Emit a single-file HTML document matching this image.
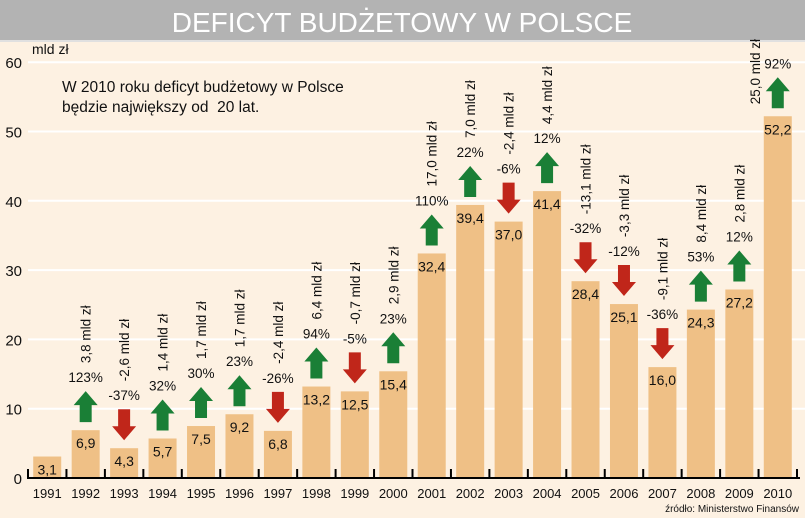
<!DOCTYPE html>
<html><head><meta charset="utf-8"><style>
body{margin:0;background:#fdf1e2;}
svg{display:block;font-family:"Liberation Sans","Noto Sans CJK SC",sans-serif;}
</style></head><body>
<svg id="c" width="805" height="518">
<rect x="0" y="0" width="805" height="518" fill="#fdf1e2"/>
<rect x="0" y="0" width="805" height="40" fill="#b3b3b3"/>
<rect x="0" y="40" width="805" height="2" fill="#e0e0e0"/>
<text x="402" y="32" text-anchor="middle" font-size="28" fill="#fff">DEFICYT BUDŻETOWY W POLSCE</text>
<text x="32" y="54" font-size="14" fill="#111">mld zł</text>
<text x="62" y="92" font-size="15.5" fill="#111">W 2010 roku deficyt budżetowy w Polsce</text>
<text x="62" y="112" font-size="15.5" fill="#111">będzie największy od&#160; 20 lat.</text>
<text x="799" y="512" text-anchor="end" font-size="10" fill="#111">źródło: Ministerstwo Finansów</text>
<g id="g"></g>
</svg>
<script>
const years=["1991","1992","1993","1994","1995","1996","1997","1998","1999","2000","2001","2002","2003","2004","2005","2006","2007","2008","2009","2010"];
const values=[3.1,6.9,4.3,5.7,7.5,9.2,6.8,13.2,12.5,15.4,32.4,39.4,37.0,41.4,28.4,25.1,16.0,24.3,27.2,52.2];
const changePct=[null,"123%","-37%","32%","30%","23%","-26%","94%","-5%","23%","110%","22%","-6%","12%","-32%","-12%","-36%","53%","12%","92%"];
const changeAbs=[null,"3,8 mld zł","-2,6 mld zł","1,4 mld zł","1,7 mld zł","1,7 mld zł","-2,4 mld zł","6,4 mld zł","-0,7 mld zł","2,9 mld zł","17,0 mld zł","7,0 mld zł","-2,4 mld zł","4,4 mld zł","-13,1 mld zł","-3,3 mld zł","-9,1 mld zł","8,4 mld zł","2,8 mld zł","25,0 mld zł"];
const yTicks=[0,10,20,30,40,50,60];
const NS="http://www.w3.org/2000/svg";
const g=document.getElementById('g');
const y0=478,ppu=6.93,x0=28,step=38.45,bw=28;
const Y=v=>y0-v*ppu;
const X=i=>x0+step*i+step/2;
function el(t,a,txt){const e=document.createElementNS(NS,t);for(const k in a)e.setAttribute(k,a[k]);if(txt!=null)e.textContent=txt;g.appendChild(e);return e;}
yTicks.forEach(t=>{
  if(t>0){const l=el('line',{x1:x0,x2:805,y1:Y(t),y2:Y(t),stroke:'#fff','stroke-width':2});
  
  }
  const tx=el('text',{x:22,y:Y(t)+6,'text-anchor':'end','font-size':15,fill:'#111'},String(t));
  
  
});
values.forEach((v,i)=>{
  const cx=X(i),top=Y(v);
  const b=el('rect',{x:cx-bw/2,y:top,width:bw,height:y0-top,fill:'#efc086'});
  
  
  const vl=el('text',{x:cx,y:top+18,'text-anchor':'middle','font-size':14,fill:'#111'},v.toFixed(1).replace('.',','));
  
  
  const yl=el('text',{x:cx,y:498,'text-anchor':'middle','font-size':13,fill:'#111'},years[i]);
  
  
  if(changePct[i]){
    const up=changePct[i][0]!=='-';
    const ab=top-8,at=top-39;
    let pts;
    if(up) pts=[[cx-6,ab],[cx+6,ab],[cx+6,at+14],[cx+12,at+14],[cx,at],[cx-12,at+14],[cx-6,at+14]];
    else pts=[[cx-6,at],[cx+6,at],[cx+6,ab-14],[cx+12,ab-14],[cx,ab],[cx-12,ab-14],[cx-6,ab-14]];
    const a=el('polygon',{points:pts.map(p=>p.join(',')).join(' '),fill:up?'#1a7f36':'#c0261a'});
    
    
    const pt=el('text',{x:cx,y:at-9,'text-anchor':'middle','font-size':13.5,fill:'#111'},changePct[i]);
    
    
    let rx=cx+5,ry=at-28;
    if(i===values.length-1){rx=cx-18;ry=at+27;}
    const rt=el('text',{x:rx,y:ry,'font-size':13.5,fill:'#111',transform:`rotate(-90 ${rx} ${ry})`},changeAbs[i]);
    
    
  }
});
const ax=el('line',{x1:x0,x2:800,y1:y0,y2:y0,stroke:'#000','stroke-width':2});


for(let i=0;i<=years.length;i++){
  const tk=el('line',{x1:x0+step*i,x2:x0+step*i,y1:y0-9,y2:y0+1,stroke:'#000','stroke-width':2});
  
  
}
</script>
</body></html>
